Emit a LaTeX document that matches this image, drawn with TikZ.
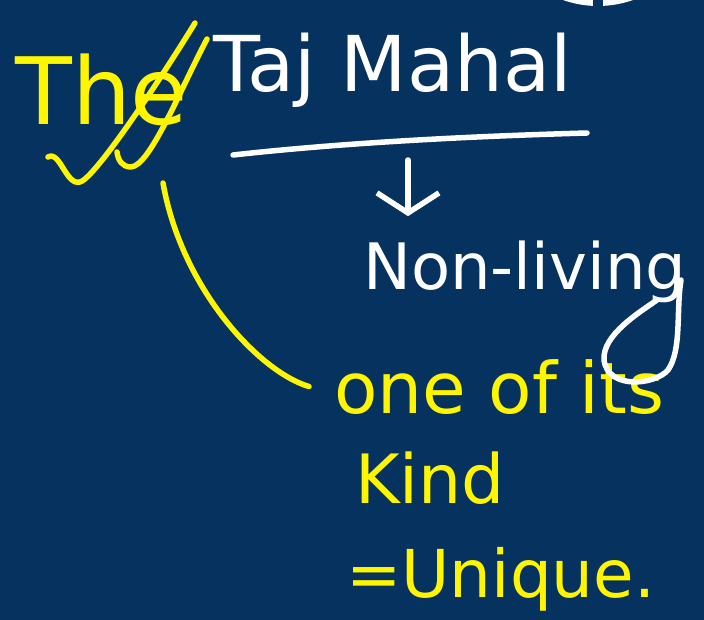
\documentclass[tikz,border=0pt]{standalone}
\usepackage{fontspec}
\setmainfont{DejaVu Sans}
\usetikzlibrary{arrows.meta}
\definecolor{board}{RGB}{5,50,95}
\definecolor{chalk}{RGB}{255,255,255}
\definecolor{marker}{RGB}{255,245,0}

\begin{document}
\begin{tikzpicture}[x=1pt, y=-1pt, every node/.style={inner sep=0pt, anchor=base west},
	ink/.style={line width=5.5pt, line cap=round, line join=round},
	>={Straight Barb[length=20pt, width=62pt]}]
	\fill[board] (0,0) rectangle (704,620);
	\useasboundingbox (0,0) rectangle (704,620);
	% corner of the white disc at the top
	\begin{scope}
		\clip (0,0) rectangle (704,620);
		\fill[chalk] (598,-99) circle (105);
		\fill[board] (593,-10) rectangle (603,8);
	\end{scope}
	% words
	\node[text=marker, font=\fontsize{93}{93}\selectfont] (the) at (15,125) {The};
	\node[text=chalk, font=\fontsize{77}{77}\selectfont] (taj) at (213,92) {Taj Mahal};
	\node[text=chalk, font=\fontsize{64}{64}\selectfont] (non) at (363,290) {Non-living};
	\node[text=marker, font=\fontsize{71}{71}\selectfont] (one) at (334,413) {one of its};
	\node[text=marker, font=\fontsize{68}{68}\selectfont] (kind) at (355,503) {Kind};
	\node[text=marker, font=\fontsize{66}{66}\selectfont] (unique) at (346,597) {=Unique.};
	% double tick through "The"
	\draw[ink, marker] (48,157) .. controls (60,150) and (66,186) .. (80,182) .. controls (95,178) and (160,80) .. (195,23);
	\draw[ink, marker] (207,39) .. controls (180,90) and (150,166) .. (131,167) .. controls (122,167) and (118,160) .. (117,152);
	% line under Taj Mahal
	\draw[ink, chalk] (233,155) .. controls (350,142) and (480,136) .. (587,133);
	% tail of the g
	\draw[ink, chalk] (681,280) .. controls (676,310) and (682,350) .. (668,370) .. controls (655,385) and (608,390) .. (604,360) .. controls (602,335) and (640,312) .. (657,300);
	% connectors
	\coordinate (ul) at (408,160);
	\draw[ink, chalk, ->] (ul) -- ([yshift=25pt]ul |- non.north);
	\coordinate (tick) at (163,183);
	\draw[ink, marker] (tick) .. controls (182,290) and (260,372) .. ([xshift=-25pt]one.west);
\end{tikzpicture}
\end{document}
